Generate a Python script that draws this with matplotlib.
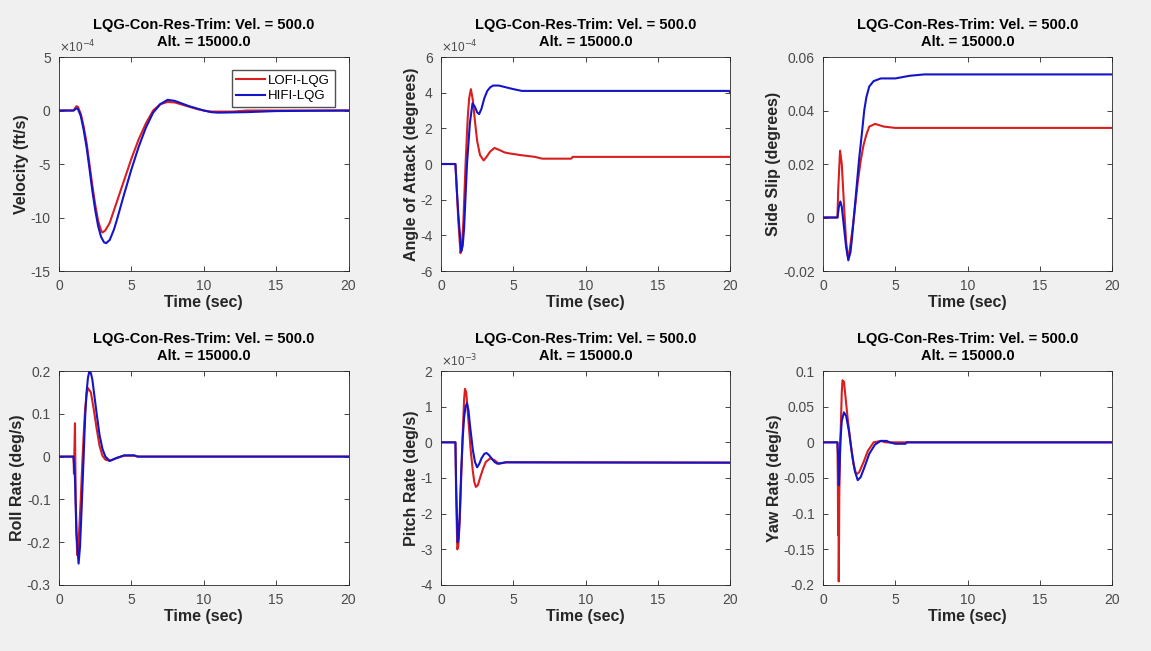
import numpy as np
import matplotlib
matplotlib.use('Agg')
import matplotlib.pyplot as plt
from matplotlib.ticker import FuncFormatter

plt.rcParams['font.family'] = ['Liberation Sans', 'DejaVu Sans']
plt.rcParams['axes.unicode_minus'] = False

# ---- data ----
# velocity (x1e-4 ft/s)
t_vel_lo = [0, 1.0, 1.1, 1.2, 1.3, 1.5, 1.7, 1.9, 2.1, 2.3, 2.5, 2.7, 2.9, 3.0, 3.2, 3.5, 3.8, 4.0, 4.5, 5.0, 5.5, 6.0, 6.5, 7.0, 7.5, 8.0, 8.5, 9.0, 9.5, 10.0, 10.5, 12.0, 13.0, 20]
vel_lo = [0, 0, 0.2, 0.4, 0.35, -0.3, -1.5, -3.0, -5.0, -7.0, -8.8, -10.3, -11.2, -11.4, -11.2, -10.5, -9.3, -8.5, -6.5, -4.5, -2.7, -1.2, 0.0, 0.6, 0.8, 0.75, 0.55, 0.35, 0.15, 0.0, -0.1, -0.1, 0.0, 0.0]
t_vel_hi = [0, 1.0, 1.2, 1.3, 1.5, 1.7, 1.9, 2.1, 2.3, 2.5, 2.7, 2.9, 3.1, 3.25, 3.5, 3.8, 4.0, 4.5, 5.0, 5.5, 6.0, 6.5, 7.0, 7.5, 8.0, 8.5, 9.0, 9.5, 10.0, 10.5, 11.0, 13.0, 15.0, 20]
vel_hi = [0, 0, 0.2, 0.15, -0.5, -1.8, -3.4, -5.4, -7.5, -9.3, -10.8, -11.8, -12.3, -12.4, -12.1, -11.1, -10.2, -7.8, -5.5, -3.4, -1.6, -0.2, 0.6, 1.0, 0.9, 0.65, 0.4, 0.2, 0.0, -0.15, -0.2, -0.15, -0.05, 0.0]

# angle of attack (x1e-4 deg)
t_aoa_lo = [0, 1.0, 1.1, 1.2, 1.35, 1.45, 1.55, 1.7, 1.85, 1.95, 2.07, 2.2, 2.35, 2.5, 2.7, 2.95, 3.15, 3.4, 3.7, 4.0, 4.4, 4.7, 5.5, 6.5, 7.0, 9.0, 9.1, 20]
aoa_lo = [0, 0, -1.5, -3.2, -5.0, -4.6, -3.2, 0.0, 2.6, 3.7, 4.2, 3.6, 2.4, 1.3, 0.5, 0.2, 0.4, 0.7, 0.9, 0.8, 0.65, 0.6, 0.5, 0.4, 0.3, 0.3, 0.4, 0.4]
t_aoa_hi = [0, 1.0, 1.1, 1.2, 1.4, 1.5, 1.6, 1.8, 2.0, 2.18, 2.35, 2.5, 2.64, 2.8, 3.0, 3.2, 3.4, 3.6, 4.0, 4.5, 5.0, 5.6, 19.9, 20]
aoa_hi = [0, 0, -1.5, -2.8, -4.9, -4.6, -3.6, 0.0, 2.3, 3.4, 3.2, 2.9, 2.8, 3.1, 3.7, 4.1, 4.3, 4.4, 4.4, 4.3, 4.2, 4.1, 4.1, 4.0]

# side slip (deg)
t_ss_lo = [0, 1.0, 1.05, 1.18, 1.3, 1.4, 1.5, 1.6, 1.7, 1.8, 1.9, 2.05, 2.2, 2.4, 2.6, 2.8, 3.0, 3.2, 3.6, 4.2, 5.0, 20]
ss_lo = [0, 0, 0.01, 0.025, 0.02, 0.01, 0.0, -0.009, -0.014, -0.014, -0.01, -0.004, 0.003, 0.013, 0.021, 0.027, 0.031, 0.034, 0.035, 0.034, 0.0335, 0.0335]
t_ss_hi = [0, 1.0, 1.1, 1.2, 1.3, 1.4, 1.5, 1.6, 1.75, 1.9, 2.0, 2.15, 2.3, 2.5, 2.7, 2.85, 3.0, 3.2, 3.5, 4.0, 5.0, 6.0, 7.0, 20]
ss_hi = [0, 0, 0.004, 0.006, 0.004, -0.001, -0.006, -0.011, -0.016, -0.013, -0.008, 0.001, 0.01, 0.022, 0.032, 0.04, 0.045, 0.049, 0.051, 0.052, 0.052, 0.053, 0.0535, 0.0535]

# roll rate (deg/s)
t_p_lo = [0, 1.0, 1.03, 1.1, 1.15, 1.25, 1.35, 1.5, 1.6, 1.7, 1.8, 1.9, 2.0, 2.2, 2.4, 2.6, 2.8, 3.0, 3.2, 3.5, 4.0, 4.5, 5.2, 5.5, 20]
p_lo = [0, 0, -0.04, 0.078, -0.1, -0.23, -0.2, -0.1, -0.02, 0.05, 0.11, 0.145, 0.16, 0.15, 0.11, 0.065, 0.025, 0.002, -0.007, -0.01, -0.003, 0.002, 0.002, 0.0, 0.0]
t_p_hi = [0, 1.0, 1.1, 1.2, 1.35, 1.45, 1.55, 1.7, 1.8, 1.9, 2.0, 2.1, 2.2, 2.3, 2.45, 2.6, 2.8, 3.0, 3.2, 3.5, 4.0, 4.5, 5.2, 5.4, 20]
p_hi = [0, 0, -0.05, -0.18, -0.25, -0.21, -0.13, 0.0, 0.09, 0.15, 0.185, 0.2, 0.195, 0.18, 0.14, 0.1, 0.05, 0.018, 0.0, -0.01, -0.003, 0.003, 0.003, 0.0, 0.0]

# pitch rate (x1e-3 deg/s)
t_q_lo = [0, 1.0, 1.05, 1.13, 1.2, 1.3, 1.4, 1.5, 1.6, 1.66, 1.75, 1.9, 2.05, 2.2, 2.3, 2.41, 2.55, 2.7, 2.9, 3.1, 3.4, 3.7, 4.0, 4.5, 20]
q_lo = [0, 0, -1.5, -3.0, -2.9, -2.2, -1.0, 0.2, 1.2, 1.5, 1.4, 0.6, -0.2, -0.8, -1.1, -1.25, -1.2, -1.0, -0.75, -0.55, -0.45, -0.5, -0.6, -0.56, -0.57]
t_q_hi = [0, 1.0, 1.05, 1.15, 1.22, 1.3, 1.4, 1.5, 1.6, 1.7, 1.8, 1.9, 2.0, 2.2, 2.35, 2.5, 2.65, 2.8, 3.0, 3.15, 3.3, 3.5, 3.7, 3.9, 4.5, 20]
q_hi = [0, 0, -1.2, -2.8, -2.7, -2.0, -0.8, 0.1, 0.7, 1.0, 1.1, 0.9, 0.5, -0.2, -0.55, -0.7, -0.6, -0.45, -0.32, -0.3, -0.35, -0.45, -0.55, -0.6, -0.56, -0.57]

# yaw rate (deg/s)
t_r_lo = [0, 1.0, 1.03, 1.05, 1.07, 1.09, 1.11, 1.13, 1.2, 1.3, 1.35, 1.45, 1.55, 1.7, 1.9, 2.1, 2.3, 2.5, 2.8, 3.1, 3.5, 4.0, 4.3, 20]
r_lo = [0, 0, -0.06, -0.13, -0.06, -0.195, -0.14, -0.07, 0.0, 0.07, 0.087, 0.085, 0.065, 0.035, 0.0, -0.03, -0.045, -0.042, -0.028, -0.012, 0.0, 0.002, 0.0, 0.0]
t_r_hi = [0, 1.0, 1.05, 1.1, 1.15, 1.2, 1.3, 1.45, 1.6, 1.8, 2.0, 2.2, 2.4, 2.6, 2.9, 3.2, 3.6, 4.0, 4.4, 4.6, 5.0, 5.7, 5.8, 20]
r_hi = [0, 0, -0.02, -0.06, -0.03, 0.0, 0.03, 0.042, 0.037, 0.015, -0.015, -0.04, -0.053, -0.049, -0.033, -0.016, -0.003, 0.002, 0.002, 0.0, -0.002, -0.002, 0.0, 0.0]

panels = [
    (t_vel_lo, vel_lo, t_vel_hi, vel_hi, 'Velocity (ft/s)', (-15, 5), [-15, -10, -5, 0, 5], '-4'),
    (t_aoa_lo, aoa_lo, t_aoa_hi, aoa_hi, 'Angle of Attack (degrees)', (-6, 6), [-6, -4, -2, 0, 2, 4, 6], '-4'),
    (t_ss_lo, ss_lo, t_ss_hi, ss_hi, 'Side Slip (degrees)', (-0.02, 0.06), [-0.02, 0, 0.02, 0.04, 0.06], None),
    (t_p_lo, p_lo, t_p_hi, p_hi, 'Roll Rate (deg/s)', (-0.3, 0.2), [-0.3, -0.2, -0.1, 0, 0.1, 0.2], None),
    (t_q_lo, q_lo, t_q_hi, q_hi, 'Pitch Rate (deg/s)', (-4, 2), [-4, -3, -2, -1, 0, 1, 2], '-3'),
    (t_r_lo, r_lo, t_r_hi, r_hi, 'Yaw Rate (deg/s)', (-0.2, 0.1), [-0.2, -0.15, -0.1, -0.05, 0, 0.05, 0.1], None),
]

title = 'LQG-Con-Res-Trim: Vel. = 500.0\nAlt. = 15000.0'
red = '#d91e1e'
blue = '#1414c8'
tick_col = '#4a4a4a'

fig = plt.figure(figsize=(11.51, 6.51), dpi=100)
fig.patch.set_facecolor('#f0f0f0')

lefts = [0.0513, 0.3831, 0.7150]
bottoms = [0.5837, 0.1014]
w, h = 0.2515, 0.3287

for i, (tl, yl, th, yh, lab, ylim, yt, expo) in enumerate(panels):
    ax = fig.add_axes([lefts[i % 3], bottoms[i // 3], w, h])
    ax.plot(tl, yl, color=red, lw=1.5, label='LOFI-LQG')
    ax.plot(th, yh, color=blue, lw=1.5, label='HIFI-LQG')
    ax.set_xlim(0, 20)
    ax.set_ylim(*ylim)
    ax.set_xticks([0, 5, 10, 15, 20])
    ax.set_yticks(yt)
    ax.yaxis.set_major_formatter(FuncFormatter(lambda v, p: '%g' % round(v, 6)))
    ax.tick_params(direction='in', top=True, right=True, length=3.5, width=0.6,
                   colors='#262626', labelcolor=tick_col, labelsize=10, pad=6)
    for s in ax.spines.values():
        s.set_color('#262626')
        s.set_linewidth(0.6)
    ax.set_title(title, fontsize=10.5, fontweight='bold', color='black', pad=8, linespacing=1.3)
    ax.set_xlabel('Time (sec)', fontsize=11.5, fontweight='bold', color='#262626', labelpad=1)
    ax.set_ylabel(lab, fontsize=11.5, fontweight='bold', color='#262626', labelpad=1)
    if expo:
        ax.text(0.0, 1.01, r'$\times$10$^{%s}$' % expo, transform=ax.transAxes,
                fontsize=8.5, color=tick_col, ha='left', va='bottom')
    if i == 0:
        ax.legend(loc='upper right', fontsize=9.5, frameon=True, fancybox=False,
                  edgecolor='#262626', handlelength=2.2, borderpad=0.35, borderaxespad=0,
                  labelspacing=0.25, handletextpad=0.2, bbox_to_anchor=(0.952, 0.94))

fig.savefig('out.png', dpi=100, facecolor=fig.get_facecolor())
print("done")
